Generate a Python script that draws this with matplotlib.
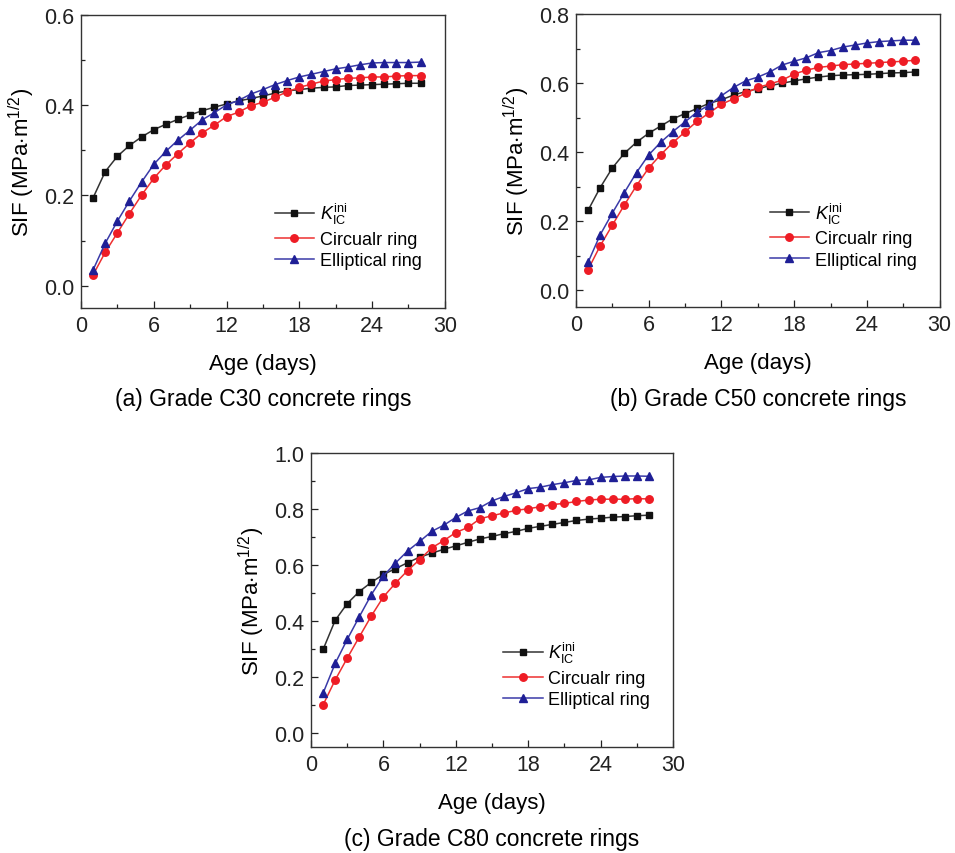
import matplotlib
matplotlib.use('Agg')
import matplotlib.pyplot as plt
from matplotlib.ticker import MultipleLocator

plt.rcParams['font.family'] = ['Liberation Sans', 'DejaVu Sans']
plt.rcParams['mathtext.fontset'] = 'custom'
plt.rcParams['mathtext.rm'] = 'Liberation Sans'
plt.rcParams['mathtext.it'] = 'Liberation Sans:italic'

days = list(range(1, 29))

# C30
k_c30 = [0.195, 0.253, 0.287, 0.311, 0.330, 0.346, 0.358, 0.369, 0.379, 0.388,
         0.396, 0.403, 0.410, 0.415, 0.421, 0.427, 0.432, 0.435, 0.438, 0.440,
         0.441, 0.444, 0.445, 0.446, 0.447, 0.448, 0.449, 0.449]
circ_c30 = [0.024, 0.074, 0.117, 0.160, 0.201, 0.238, 0.268, 0.293, 0.317, 0.339,
            0.356, 0.375, 0.385, 0.399, 0.407, 0.418, 0.430, 0.440, 0.447, 0.454,
            0.457, 0.460, 0.461, 0.463, 0.463, 0.465, 0.466, 0.466]
ell_c30 = [0.035, 0.094, 0.143, 0.188, 0.230, 0.269, 0.298, 0.323, 0.345, 0.368,
           0.384, 0.401, 0.411, 0.425, 0.435, 0.446, 0.455, 0.463, 0.469, 0.475,
           0.481, 0.485, 0.490, 0.494, 0.495, 0.495, 0.495, 0.496]

# C50
k_c50 = [0.231, 0.297, 0.354, 0.397, 0.429, 0.455, 0.476, 0.497, 0.512, 0.527,
         0.542, 0.552, 0.566, 0.576, 0.584, 0.593, 0.600, 0.607, 0.613, 0.618,
         0.622, 0.624, 0.625, 0.626, 0.628, 0.630, 0.631, 0.633]
circ_c50 = [0.059, 0.128, 0.188, 0.247, 0.303, 0.354, 0.393, 0.428, 0.459, 0.490,
            0.514, 0.539, 0.555, 0.571, 0.588, 0.598, 0.609, 0.627, 0.638, 0.646,
            0.650, 0.654, 0.656, 0.658, 0.660, 0.662, 0.664, 0.667]
ell_c50 = [0.080, 0.160, 0.223, 0.283, 0.341, 0.392, 0.429, 0.460, 0.488, 0.517,
           0.537, 0.564, 0.588, 0.607, 0.618, 0.633, 0.653, 0.664, 0.674, 0.689,
           0.695, 0.705, 0.711, 0.717, 0.721, 0.723, 0.725, 0.725]

# C80
k_c80 = [0.299, 0.403, 0.463, 0.506, 0.539, 0.567, 0.588, 0.609, 0.629, 0.643,
         0.657, 0.669, 0.682, 0.694, 0.703, 0.713, 0.721, 0.732, 0.739, 0.746,
         0.753, 0.760, 0.765, 0.768, 0.772, 0.774, 0.777, 0.779]
circ_c80 = [0.101, 0.190, 0.268, 0.344, 0.419, 0.487, 0.536, 0.581, 0.620, 0.662,
            0.688, 0.717, 0.735, 0.766, 0.777, 0.787, 0.796, 0.802, 0.809, 0.817,
            0.821, 0.828, 0.833, 0.836, 0.836, 0.836, 0.838, 0.837]
ell_c80 = [0.143, 0.249, 0.335, 0.416, 0.495, 0.562, 0.608, 0.651, 0.685, 0.721,
           0.743, 0.771, 0.794, 0.806, 0.830, 0.846, 0.859, 0.874, 0.879, 0.888,
           0.895, 0.903, 0.905, 0.914, 0.917, 0.919, 0.919, 0.918]

panels = [
    ('(a) Grade C30 concrete rings', k_c30, circ_c30, ell_c30, 0.6),
    ('(b) Grade C50 concrete rings', k_c50, circ_c50, ell_c50, 0.8),
    ('(c) Grade C80 concrete rings', k_c80, circ_c80, ell_c80, 1.0),
]

# axes rectangles in figure fractions
rects = [
    [0.0848, 0.638, 0.381, 0.343],
    [0.603, 0.639, 0.381, 0.343],
    [0.3257, 0.124, 0.379, 0.344],
]

fig = plt.figure(figsize=(9.55, 8.54), dpi=100)

for (caption, k, circ, ell, ymax), rect in zip(panels, rects):
    ax = fig.add_axes(rect)
    ax.plot(days, k, color='#333333', lw=1.1, marker='s', ms=4.8,
            mfc='#111111', mec='#111111', label=r'$K_{\rm IC}^{\rm ini}$')
    ax.plot(days, circ, color='#ee3030', lw=1.1, marker='o', ms=5.4,
            mfc='#ee1c25', mec='#ee1c25', label='Circualr ring')
    ax.plot(days, ell, color='#3a3aa8', lw=1.1, marker='^', ms=6,
            mfc='#1f1f96', mec='#1f1f96', label='Elliptical ring')

    ax.set_xlim(0, 30)
    ax.set_ylim(-0.05, ymax)
    ax.xaxis.set_major_locator(MultipleLocator(6))
    ax.xaxis.set_minor_locator(MultipleLocator(3))
    ax.yaxis.set_major_locator(MultipleLocator(0.2))
    ax.yaxis.set_minor_locator(MultipleLocator(0.1))
    ax.yaxis.set_major_formatter(plt.FuncFormatter(lambda v, p: f'{v:.1f}'))
    ax.tick_params(which='both', direction='in', top=False, right=False,
                   labelsize=15.5, colors='#222222', width=0.9)
    ax.tick_params(which='major', length=5, pad=5)
    ax.tick_params(which='minor', length=3)
    for sp in ax.spines.values():
        sp.set_color('#333333')
        sp.set_linewidth(1.0)

    ax.set_xlabel('Age (days)', fontsize=16, labelpad=12)
    ax.set_ylabel(r'SIF (MPa$\cdot$m$^{1/2}$)', fontsize=16, labelpad=5)
    ax.text(0.5, -0.31, caption, transform=ax.transAxes, ha='center',
            va='center', fontsize=16.5)

    ax.legend(loc='lower right', bbox_to_anchor=(0.966, 0.095), frameon=False,
              fontsize=13, handlelength=2.2, handletextpad=0.3,
              labelspacing=0.25, borderaxespad=0.2)

fig.savefig('out.png', dpi=100)
